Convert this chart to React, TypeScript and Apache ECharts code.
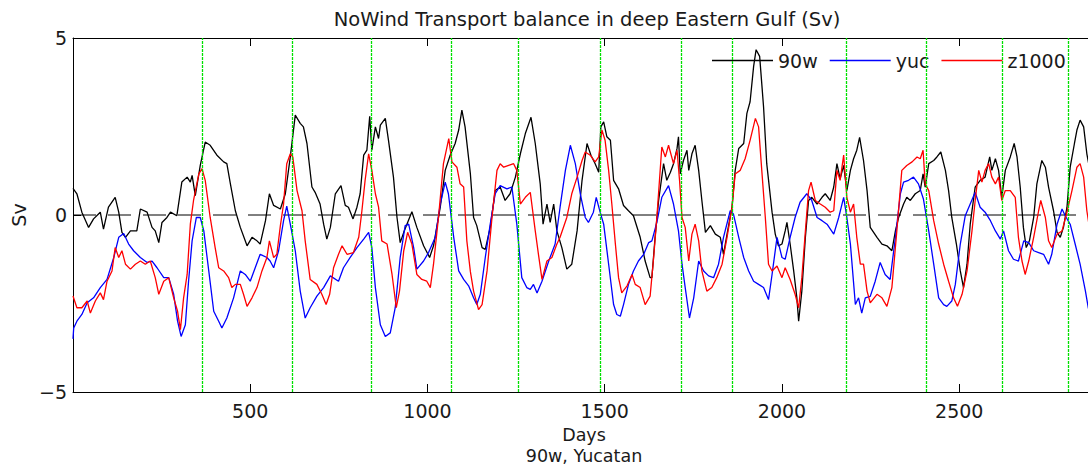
import React, { useEffect, useRef } from "react";
import * as echarts from "echarts";

// Vertical reference days (green dotted lines)
const greenDays = [365, 619, 840, 1066, 1255, 1486, 1716, 1861, 2180, 2407, 2622, 2807];

// Zero reference line
const zeroLine = [[0, 0], [2883, 0]];

// 90w transport (Sv) [day, value]
const w90 = [
  [0, 0.75], [11, 0.6], [25, 0.08], [44, -0.35], [58, -0.11], [77, 0.08], [86, -0.4], [100, 0.22], [119, 0.5], [129, 0.08],
  [138, -0.49], [148, -0.63], [162, -0.45], [180, -0.45], [190, 0.17], [209, 0.08], [223, -0.35], [232, -0.45], [242, -0.78], [251, -0.21],
  [265, -0.07], [275, 0.08], [293, -0.02], [307, 0.93], [322, 1.07], [331, 0.93], [336, 1.12], [345, 0.55], [359, 1.4], [373, 2.06],
  [387, 1.97], [406, 1.69], [425, 1.5], [434, 1.45], [444, 0.88], [458, 0.12], [472, -0.35], [491, -0.87], [505, -0.63], [519, -0.73],
  [528, -0.82], [543, -0.16], [554, 0.6], [566, 0.27], [585, 0.17], [599, 0.6], [613, 1.64], [627, 2.82], [641, 2.59], [650, 2.49],
  [660, 2.02], [674, 0.79], [683, 0.64], [697, 0.31], [707, -0.26], [716, -0.68], [726, -0.35], [740, 0.6], [756, 0.83], [768, 0.27],
  [777, 0.22], [790, -0.11], [801, 0.22], [810, 0.6], [820, 1.69], [829, 1.83], [837, 2.79], [843, 1.83], [853, 2.49], [862, 2.16],
  [867, 2.54], [881, 2.73], [890, 2.11], [904, 1.07], [914, -0.07], [923, -0.78], [933, -0.49], [956, 0.09], [970, -0.35], [989, -0.87],
  [1006, -1.2], [1017, -0.87], [1036, 0.22], [1050, 1.26], [1064, 1.69], [1078, 2.02], [1088, 2.4], [1097, 2.96], [1106, 2.49], [1121, 1.16],
  [1130, -0.07], [1139, -0.3], [1154, -0.92], [1163, -0.97], [1177, -0.35], [1191, 0.69], [1205, 0.79], [1219, 0.41], [1233, 0.6], [1248, 1.07],
  [1262, 1.73], [1276, 2.3], [1292, 2.76], [1304, 2.02], [1318, 0.88], [1326, -0.26], [1337, 0.31], [1346, -0.21], [1356, 0.31], [1365, -0.45],
  [1379, -0.92], [1393, -1.53], [1407, -1.39], [1422, -0.45], [1436, 0.98], [1450, 2.02], [1461, 1.69], [1473, 1.45], [1483, 1.21], [1489, 2.49],
  [1497, 2.63], [1506, 2.21], [1516, 2.11], [1525, 0.98], [1539, 0.74], [1553, 0.27], [1567, 0.12], [1581, -0.02], [1600, -0.63], [1614, -1.3],
  [1628, -1.77], [1633, -1.77], [1642, -0.63], [1652, 0.41], [1666, 1.45], [1675, 0.98], [1685, 1.2], [1694, 1.45], [1704, 1.88], [1708, 2.21],
  [1713, 1.16], [1722, 1.54], [1732, 1.83], [1737, 1.26], [1746, 1.73], [1755, 1.97], [1765, 1.26], [1774, 0.41], [1784, -0.49], [1798, -0.3],
  [1812, -0.54], [1826, -0.63], [1835, -1.11], [1845, -0.54], [1859, 0.22], [1868, 1.26], [1878, 1.88], [1892, 2.02], [1901, 2.87], [1910, 3.2],
  [1920, 4.2], [1927, 4.67], [1937, 4.48], [1948, 3.06], [1957, 1.45], [1972, 0.08], [1981, -0.54], [1990, -0.87], [2000, -0.82], [2009, -0.45],
  [2014, -0.21], [2023, -0.82], [2033, -1.58], [2042, -2.34], [2047, -3.0], [2056, -2.15], [2066, -0.63], [2075, 0.41], [2084, 0.5], [2099, 0.31],
  [2113, 0.5], [2122, 0.6], [2136, 0.41], [2146, 0.79], [2155, 1.45], [2164, 1.02], [2174, 1.4], [2183, 0.69], [2193, 1.26], [2202, 1.59],
  [2211, 1.83], [2219, 2.19], [2230, 1.54], [2240, 0.69], [2249, -0.35], [2268, -0.63], [2282, -0.82], [2296, -0.87], [2310, -1.01], [2320, -0.45],
  [2329, -0.07], [2343, 0.31], [2352, 0.5], [2362, 0.41], [2376, 0.6], [2390, 0.69], [2398, 1.16], [2404, 0.79], [2414, 1.45], [2428, 1.54],
  [2437, 1.64], [2448, 1.78], [2461, 1.26], [2470, 0.69], [2479, -0.07], [2492, -0.82], [2503, -1.58], [2512, -2.05], [2522, -1.39], [2531, -0.26],
  [2545, 0.79], [2559, 0.98], [2573, 1.07], [2586, 1.64], [2592, 1.26], [2602, 1.59], [2611, 1.26], [2620, 0.5], [2630, 1.26], [2644, 1.64],
  [2655, 2.02], [2663, 1.64], [2672, 0.79], [2681, -0.35], [2689, -0.92], [2698, -0.73], [2710, -0.07], [2719, 0.88], [2733, 1.54], [2743, 1.35],
  [2752, 0.79], [2766, 0.12], [2776, -0.49], [2785, -0.63], [2794, -0.35], [2804, 0.22], [2813, 1.35], [2825, 2.02], [2832, 2.4], [2841, 2.68],
  [2851, 2.49], [2860, 1.73], [2868, 1.3], [2876, 0.6], [2883, 0.2],
];

// Yucatan transport (Sv) [day, value]
const yuc = [
  [0, -3.5], [2, -3.19], [11, -3.0], [25, -2.81], [40, -2.48], [58, -2.34], [77, -2.05], [96, -1.82], [115, -1.2], [129, -0.63],
  [143, -0.52], [157, -0.82], [171, -1.01], [190, -1.2], [209, -1.34], [223, -1.3], [237, -1.49], [256, -1.77], [270, -1.77], [284, -2.24],
  [295, -3.0], [305, -3.43], [317, -3.1], [326, -1.87], [336, -0.73], [348, -0.07], [359, -0.07], [369, -0.45], [383, -1.58], [397, -2.72],
  [411, -3.0], [420, -3.19], [434, -2.91], [453, -2.34], [472, -1.58], [486, -1.68], [500, -1.87], [514, -1.49], [528, -1.11], [547, -1.2],
  [556, -1.3], [566, -1.49], [580, -1.01], [594, -0.16], [603, 0.25], [613, -0.26], [627, -1.01], [641, -2.15], [655, -2.91], [669, -2.62],
  [688, -2.29], [707, -2.05], [726, -1.72], [749, -1.87], [763, -1.49], [782, -1.2], [801, -0.92], [820, -0.68], [834, -0.49], [843, -0.92],
  [853, -2.05], [867, -3.1], [881, -3.43], [895, -3.33], [909, -2.62], [923, -1.2], [937, -0.3], [947, -0.26], [961, -0.92], [970, -1.53],
  [989, -1.3], [1003, -1.06], [1022, -0.63], [1036, 0.31], [1050, 0.93], [1059, 0.6], [1074, -0.63], [1088, -1.58], [1102, -1.82], [1116, -2.0],
  [1130, -2.34], [1139, -2.53], [1149, -2.24], [1163, -1.2], [1177, -0.26], [1191, 0.6], [1205, 0.83], [1224, 0.74], [1238, 0.79], [1252, -0.26],
  [1266, -1.77], [1280, -2.05], [1290, -2.1], [1299, -1.96], [1309, -2.2], [1323, -1.87], [1342, -1.3], [1360, -0.82], [1374, 0.22], [1389, 1.26],
  [1403, 1.97], [1417, 1.45], [1431, 0.6], [1445, -0.07], [1454, -0.21], [1468, 0.08], [1476, 0.5], [1487, 0.08], [1497, -0.26], [1511, -1.39],
  [1525, -2.53], [1534, -2.81], [1544, -2.86], [1553, -2.53], [1567, -1.96], [1581, -1.58], [1595, -1.3], [1610, -1.11], [1624, -0.78], [1633, -0.73],
  [1647, -0.21], [1661, 0.5], [1680, 0.83], [1694, 0.31], [1708, -0.45], [1718, -1.39], [1727, -2.05], [1739, -2.91], [1751, -2.34], [1765, -1.3],
  [1779, -1.58], [1793, -1.72], [1807, -1.77], [1821, -1.39], [1835, -0.63], [1854, 0.12], [1863, 0.03], [1878, -0.63], [1892, -1.2], [1906, -1.58],
  [1920, -1.87], [1934, -1.96], [1948, -2.05], [1962, -2.39], [1972, -1.68], [1986, -0.63], [2000, -1.2], [2009, -1.25], [2023, -0.63], [2037, -0.07],
  [2051, 0.36], [2070, 0.6], [2084, 0.41], [2099, -0.07], [2113, -0.16], [2127, -0.26], [2146, -0.54], [2160, -0.07], [2174, 0.5], [2183, -0.07],
  [2193, -0.82], [2207, -2.53], [2216, -2.34], [2225, -2.77], [2235, -2.34], [2249, -2.3], [2263, -1.87], [2277, -1.34], [2291, -1.68], [2305, -1.82],
  [2320, -0.63], [2334, 0.6], [2343, 0.93], [2357, 0.98], [2371, 1.07], [2385, 0.88], [2399, 0.45], [2414, -0.45], [2428, -1.39], [2442, -2.34],
  [2456, -2.53], [2465, -2.58], [2479, -2.43], [2489, -1.96], [2503, -0.82], [2517, -0.02], [2531, 0.31], [2545, 0.64], [2559, 0.22], [2573, 0.08],
  [2588, -0.16], [2602, -0.45], [2616, -0.68], [2625, -0.45], [2639, -1.01], [2653, -1.25], [2667, -1.3], [2682, -0.73], [2696, -0.78], [2710, -1.01],
  [2724, -1.06], [2738, -1.11], [2752, -1.39], [2761, -1.11], [2776, -0.26], [2790, 0.17], [2799, -0.02], [2813, -0.26], [2827, -0.82], [2841, -1.39],
  [2856, -2.15], [2864, -2.62], [2873, -2.9], [2883, -3.0],
];

// z1000 transport (Sv) [day, value]
const z1000 = [
  [0, -2.29], [11, -2.62], [25, -2.62], [40, -2.43], [49, -2.77], [63, -2.43], [77, -2.2], [86, -2.39], [96, -1.87], [110, -1.58],
  [119, -0.92], [129, -1.2], [138, -1.01], [148, -1.39], [162, -1.53], [176, -1.39], [190, -1.3], [204, -1.39], [218, -1.3], [232, -1.77],
  [242, -2.24], [256, -1.87], [270, -1.77], [284, -2.34], [295, -2.72], [303, -3.24], [312, -2.34], [322, -1.68], [331, -0.26], [340, 0.41],
  [355, 1.16], [364, 1.31], [373, 0.98], [387, -0.07], [401, -0.92], [411, -1.49], [425, -1.58], [439, -1.77], [448, -2.05], [458, -1.96],
  [472, -1.96], [481, -2.24], [491, -2.58], [505, -2.34], [519, -2.05], [533, -1.58], [547, -1.2], [554, -0.73], [566, -1.2], [575, -1.11],
  [585, -0.3], [594, 0.31], [603, 1.45], [613, 1.73], [620, 1.64], [632, 0.69], [646, 0.12], [655, -0.73], [669, -1.82], [688, -1.96],
  [702, -2.24], [714, -2.53], [724, -2.24], [735, -1.49], [749, -1.11], [759, -0.87], [773, -1.11], [791, -1.06], [806, -0.63], [815, 0.12],
  [824, 0.98], [834, 1.73], [843, 1.26], [853, 0.6], [862, 0.22], [871, -0.73], [886, -0.82], [900, -1.68], [912, -2.62], [921, -2.15],
  [933, -1.01], [944, -0.49], [956, -0.82], [970, -1.68], [984, -1.82], [998, -1.87], [1008, -2.05], [1017, -1.39], [1031, -0.07], [1045, 1.45],
  [1060, 2.16], [1069, 1.5], [1083, 1.35], [1092, 0.88], [1102, 0.79], [1111, -0.73], [1121, -1.6], [1130, -2.15], [1144, -2.67], [1154, -2.53],
  [1168, -1.58], [1182, -0.07], [1196, 1.26], [1205, 1.45], [1215, 1.35], [1229, 1.4], [1243, 1.45], [1252, 1.26], [1262, 0.31], [1276, 0.5],
  [1290, 0.64], [1304, -0.45], [1313, -1.11], [1323, -1.82], [1337, -1.3], [1351, -1.2], [1365, -0.82], [1374, -0.63], [1393, -0.07], [1407, 0.6],
  [1422, 1.07], [1436, 1.54], [1445, 1.78], [1459, 1.69], [1473, 1.5], [1483, 1.64], [1492, 2.4], [1501, 2.11], [1511, 1.26], [1520, 0.31],
  [1530, -0.82], [1539, -1.77], [1548, -2.2], [1563, -2.0], [1577, -1.68], [1586, -1.96], [1600, -2.05], [1614, -2.53], [1628, -2.29], [1638, -1.2],
  [1647, -0.07], [1661, 1.92], [1671, 1.64], [1680, 1.97], [1694, 1.45], [1704, 1.83], [1711, 0.98], [1718, -0.07], [1727, -0.35], [1737, -1.3],
  [1746, -0.54], [1755, -0.26], [1765, -0.73], [1774, -1.58], [1788, -2.15], [1802, -2.05], [1816, -1.77], [1831, -1.39], [1845, -0.63], [1859, 0.22],
  [1868, 1.16], [1882, 1.26], [1896, 1.59], [1910, 2.11], [1925, 2.73], [1934, 2.49], [1943, 1.26], [1953, -0.07], [1962, -1.39], [1972, -1.58],
  [1986, -1.44], [2000, -1.77], [2009, -1.49], [2023, -1.82], [2037, -2.24], [2047, -2.62], [2056, -1.77], [2066, -0.45], [2075, 0.69], [2082, 0.93],
  [2094, 0.41], [2108, 0.31], [2122, 0.22], [2136, 0.08], [2146, 0.12], [2155, 1.26], [2164, 0.98], [2174, 1.69], [2183, 0.5], [2193, 0.08],
  [2202, 0.31], [2211, -0.63], [2221, -1.39], [2230, -1.39], [2240, -2.15], [2249, -2.48], [2268, -2.24], [2282, -2.34], [2296, -2.58], [2310, -2.05],
  [2324, -0.45], [2338, 1.26], [2352, 1.4], [2367, 1.5], [2381, 1.64], [2390, 1.59], [2398, 1.83], [2404, 0.88], [2414, 0.69], [2428, -0.16],
  [2442, -0.82], [2456, -1.39], [2470, -1.87], [2484, -2.34], [2495, -2.58], [2508, -2.24], [2522, -1.58], [2536, -0.45], [2545, 0.41], [2555, 1.26],
  [2564, 0.93], [2573, 1.26], [2583, 1.45], [2592, 1.07], [2602, 0.88], [2611, 1.07], [2620, 0.41], [2630, 0.69], [2644, 0.69], [2658, 0.5],
  [2667, -0.63], [2677, -1.3], [2686, -1.68], [2696, -1.3], [2710, -0.63], [2724, 0.12], [2730, 0.41], [2743, -0.07], [2752, -0.73], [2761, -0.92],
  [2776, -0.54], [2790, -0.45], [2804, 0.08], [2818, 0.69], [2832, 1.35], [2841, 1.45], [2851, 1.07], [2860, 0.12], [2868, -0.4], [2876, -0.8],
  [2883, -1.0],
];

const X_MIN = 0;
const X_MAX = 2883;
const X_STEP = 500;
const Y_MIN = -5;
const Y_MAX = 5;
const Y_STEP = 5;

const FONT = "DejaVu Sans";
const TEXT = "#1a1a1a";
const FS = 19;

export default function App() {
  const ref = useRef<HTMLDivElement>(null);

  useEffect(() => {
    if (!ref.current) return;
    const chart = echarts.init(ref.current, null, { renderer: "svg" });
    const axisLineStyle = { color: "#000", width: 1 };
    chart.setOption({
      animation: false,
      backgroundColor: "#fff",
      textStyle: { fontFamily: FONT },
      title: {
        text: "NoWind Transport balance in deep Eastern Gulf (Sv)",
        left: 582,
        top: 4,
        textAlign: "center",
        textStyle: { fontSize: 19.5, fontWeight: "normal", color: TEXT, fontFamily: FONT },
      },
      legend: {
        data: ["90w", "yuc", "z1000"],
        left: 712,
        top: 51,
        padding: 0,
        icon: "rect",
        itemWidth: 61,
        itemHeight: 1.4,
        itemGap: 12,
        textStyle: { fontSize: FS, color: TEXT, fontFamily: FONT },
      },
      grid: { left: 73, top: 38, width: 1022, height: 354, outerBoundsMode: "none", containLabel: false },
      xAxis: [
        {
          type: "value",
          min: X_MIN,
          max: X_MAX,
          interval: X_STEP,
          position: "bottom",
          axisLine: { show: true, onZero: false, lineStyle: axisLineStyle },
          axisTick: { show: true, inside: true, length: 8, lineStyle: axisLineStyle },
          axisLabel: {
            fontSize: FS,
            color: TEXT,
            fontFamily: FONT,
            margin: 9,
            showMinLabel: false,
            showMaxLabel: false,
            formatter: (v: number) => String(v),
          },
          splitLine: { show: false },
          name: "Days\n90w, Yucatan",
          nameLocation: "middle",
          nameGap: 33,
          nameTextStyle: { fontSize: 17.5, color: TEXT, fontFamily: FONT, lineHeight: 20.5 },
        },
        {
          type: "value",
          min: X_MIN,
          max: X_MAX,
          interval: X_STEP,
          position: "top",
          axisLine: { show: true, onZero: false, lineStyle: axisLineStyle },
          axisTick: { show: true, inside: true, length: 8, lineStyle: axisLineStyle },
          axisLabel: { show: false },
          splitLine: { show: false },
        },
      ],
      yAxis: {
        type: "value",
        min: Y_MIN,
        max: Y_MAX,
        interval: Y_STEP,
        axisLine: { show: true, onZero: false, lineStyle: axisLineStyle },
        axisTick: { show: true, inside: true, length: 8, lineStyle: axisLineStyle },
        axisLabel: {
          fontSize: FS,
          color: TEXT,
          fontFamily: FONT,
          margin: 6,
          verticalAlign: "middle",
          verticalAlignMinLabel: "middle",
          verticalAlignMaxLabel: "middle",
          formatter: (v: number) => String(v).replace("-", "\u2212"),
        },
        splitLine: { show: false },
        name: "Sv",
        nameLocation: "middle",
        nameGap: 43,
        nameTextStyle: { fontSize: FS, color: TEXT, fontFamily: FONT },
      },
      series: [
        {
          name: "zero",
          type: "line",
          data: zeroLine,
          symbol: "none",
          silent: true,
          lineStyle: { color: "#000", width: 1, type: [23, 12] },
          markLine: {
            silent: true,
            symbol: ["none", "none"],
            label: { show: false },
            emphasis: { disabled: true },
            lineStyle: { color: "#00e000", width: 1.3, type: [3, 1] },
            data: greenDays.map((d) => ({ xAxis: d })),
          },
          z: 1,
        },
        {
          name: "90w",
          type: "line",
          data: w90,
          symbol: "none",
          lineStyle: { color: "#000000", width: 1.3 },
          itemStyle: { color: "#000000" },
          z: 3,
        },
        {
          name: "yuc",
          type: "line",
          data: yuc,
          symbol: "none",
          lineStyle: { color: "#0000ff", width: 1.3 },
          itemStyle: { color: "#0000ff" },
          z: 3,
        },
        {
          name: "z1000",
          type: "line",
          data: z1000,
          symbol: "none",
          lineStyle: { color: "#ff0000", width: 1.3 },
          itemStyle: { color: "#ff0000" },
          z: 3,
        },
      ],
    });
    return () => chart.dispose();
  }, []);

  return (
    <div
      style={{
        position: "absolute",
        left: 0,
        top: 0,
        width: 1088,
        height: 468,
        overflow: "hidden",
        background: "#fff",
      }}
    >
      <div ref={ref} style={{ width: 1100, height: 468 }} />
    </div>
  );
}
